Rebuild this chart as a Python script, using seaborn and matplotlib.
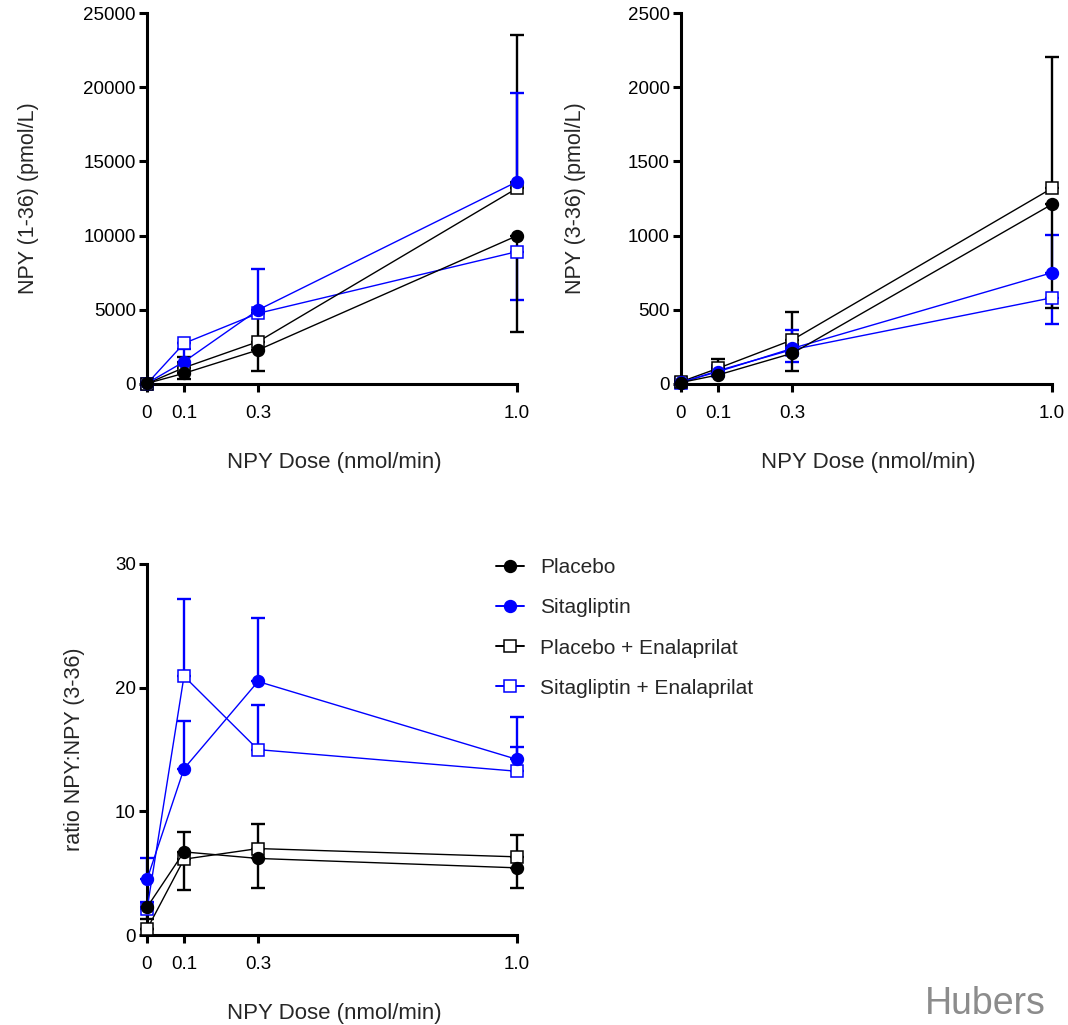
import matplotlib
matplotlib.use("Agg")
import matplotlib.pyplot as plt
import seaborn as sns
import numpy as np
import pandas as pd

sns.set_style("ticks")
plt.rcParams["font.family"] = ["Liberation Sans", "DejaVu Sans"]

# NPY infusion doses (nmol/min)
dose = [0, 0.1, 0.3, 1.0]
dose_labels = ["0", "0.1", "0.3", "1.0"]

groups = ["Placebo", "Sitagliptin", "Placebo + Enalaprilat", "Sitagliptin + Enalaprilat"]

# NPY (1-36), pmol/L: mean, lower and upper error
npy136_placebo = [40, 720, 2290, 9990]
npy136_placebo_lo = [0, 400, 1390, 6470]
npy136_placebo_hi = [0, 0, 0, 0]
npy136_sita = [50, 1500, 4990, 13630]
npy136_sita_lo = [0, 0, 0, 0]
npy136_sita_hi = [0, 840, 2760, 6000]
npy136_plen = [30, 1100, 2850, 13190]
npy136_plen_lo = [0, 0, 0, 0]
npy136_plen_hi = [0, 700, 1950, 10330]
npy136_sien = [20, 2740, 4760, 8920]
npy136_sien_lo = [0, 0, 0, 3260]
npy136_sien_hi = [0, 0, 0, 0]

# NPY (3-36), pmol/L
npy336_placebo = [10, 61, 207, 1211]
npy336_placebo_lo = [0, 0, 117, 697]
npy336_placebo_hi = [0, 0, 0, 0]
npy336_sita = [12, 83, 240, 750]
npy336_sita_lo = [0, 0, 0, 0]
npy336_sita_hi = [0, 0, 124, 254]
npy336_plen = [15, 106, 297, 1319]
npy336_plen_lo = [0, 0, 0, 0]
npy336_plen_hi = [0, 60, 186, 885]
npy336_sien = [8, 90, 232, 581]
npy336_sien_lo = [0, 0, 86, 177]
npy336_sien_hi = [0, 0, 0, 0]

# ratio NPY : NPY (3-36)
ratio_placebo = [2.24, 6.72, 6.19, 5.43]
ratio_placebo_lo = [0.97, 3.09, 2.37, 1.61]
ratio_placebo_hi = [0, 0, 0, 0]
ratio_sita = [4.49, 13.45, 20.5, 14.2]
ratio_sita_lo = [0, 0, 0, 0]
ratio_sita_hi = [1.70, 3.82, 5.17, 3.4]
ratio_plen = [0.46, 6.13, 6.99, 6.32]
ratio_plen_lo = [0, 0, 0, 0]
ratio_plen_hi = [0, 2.16, 1.97, 1.75]
ratio_sien = [2.07, 20.93, 14.99, 13.24]
ratio_sien_lo = [0, 0, 0, 0]
ratio_sien_hi = [0.62, 6.24, 3.6, 1.93]

BLUE = "#0000ff"
BLACK = "#000000"
styles = {
    "Placebo": dict(color=BLACK, marker="o", mfc=BLACK, z=3.4),
    "Sitagliptin": dict(color=BLUE, marker="o", mfc=BLUE, z=3.3),
    "Placebo + Enalaprilat": dict(color=BLACK, marker="s", mfc="white", z=3.2),
    "Sitagliptin + Enalaprilat": dict(color=BLUE, marker="s", mfc="white", z=3.1),
}

panels = [
    dict(series={
        "Placebo": (npy136_placebo, npy136_placebo_lo, npy136_placebo_hi),
        "Sitagliptin": (npy136_sita, npy136_sita_lo, npy136_sita_hi),
        "Placebo + Enalaprilat": (npy136_plen, npy136_plen_lo, npy136_plen_hi),
        "Sitagliptin + Enalaprilat": (npy136_sien, npy136_sien_lo, npy136_sien_hi),
    }, ylim=25000, yticks=[0, 5000, 10000, 15000, 20000, 25000],
        ylabel="NPY (1-36) (pmol/L)", rect=[147, 13, 517, 384], ylab_x=-0.292),
    dict(series={
        "Placebo": (npy336_placebo, npy336_placebo_lo, npy336_placebo_hi),
        "Sitagliptin": (npy336_sita, npy336_sita_lo, npy336_sita_hi),
        "Placebo + Enalaprilat": (npy336_plen, npy336_plen_lo, npy336_plen_hi),
        "Sitagliptin + Enalaprilat": (npy336_sien, npy336_sien_lo, npy336_sien_hi),
    }, ylim=2500, yticks=[0, 500, 1000, 1500, 2000, 2500],
        ylabel="NPY (3-36) (pmol/L)", rect=[681, 13, 1052, 384], ylab_x=-0.256),
    dict(series={
        "Placebo": (ratio_placebo, ratio_placebo_lo, ratio_placebo_hi),
        "Sitagliptin": (ratio_sita, ratio_sita_lo, ratio_sita_hi),
        "Placebo + Enalaprilat": (ratio_plen, ratio_plen_lo, ratio_plen_hi),
        "Sitagliptin + Enalaprilat": (ratio_sien, ratio_sien_lo, ratio_sien_hi),
    }, ylim=30, yticks=[0, 10, 20, 30],
        ylabel="ratio NPY:NPY (3-36)", rect=[147, 564, 517, 935], ylab_x=-0.168),
]

W, H = 1068, 1025
fig = plt.figure(figsize=(W / 100, H / 100), dpi=100)

axes = []
for p in panels:
    x0, y0, x1, y1 = p["rect"]
    ax = fig.add_axes([x0 / W, 1 - y1 / H, (x1 - x0) / W, (y1 - y0) / H])
    axes.append(ax)

    # error bars first, markers drawn over them
    for name in groups:
        vals, lo, hi = p["series"][name]
        st = styles[name]
        ax.errorbar(dose, vals, yerr=[lo, hi], fmt="none", ecolor=st["color"],
                    elinewidth=1.7, capsize=5, capthick=1.7, clip_on=False,
                    zorder=st["z"] - 1)

    for name in groups:
        vals, lo, hi = p["series"][name]
        st = styles[name]
        df = pd.DataFrame({"dose": dose, "value": vals})
        sns.lineplot(data=df, x="dose", y="value", ax=ax, color=st["color"],
                     marker=st["marker"], markersize=8.5 if st["marker"] == "o" else 8,
                     markerfacecolor=st["mfc"], markeredgecolor=st["color"],
                     markeredgewidth=1.1, linewidth=1.0, errorbar=None,
                     clip_on=False, zorder=st["z"], label=name, legend=False)

    ax.set_xlim(0, 1.0)
    ax.set_ylim(0, p["ylim"])
    ax.set_xticks(dose)
    ax.set_xticklabels(dose_labels)
    ax.set_yticks(p["yticks"])
    ax.set_yticklabels([str(t) for t in p["yticks"]])
    for s in ["top", "right"]:
        ax.spines[s].set_visible(False)
    for s in ["left", "bottom"]:
        ax.spines[s].set_linewidth(2.2)
        ax.spines[s].set_color("black")
    ax.tick_params(axis="both", length=6, width=2.2, labelsize=13.5, colors="black")
    ax.tick_params(axis="x", pad=9)
    ax.tick_params(axis="y", pad=2)
    ax.set_xlabel("NPY Dose (nmol/min)", fontsize=16)
    ax.set_ylabel(p["ylabel"], fontsize=15.5)
    ax.xaxis.set_label_coords(0.505, -0.183)
    ax.yaxis.set_label_coords(p["ylab_x"], 0.5)
    ax.grid(False)

# legend beside the ratio panel
handles = []
for name in groups:
    st = styles[name]
    h = plt.Line2D([], [], color=st["color"], marker=st["marker"],
                   markersize=8.5 if st["marker"] == "o" else 8,
                   markerfacecolor=st["mfc"], markeredgecolor=st["color"],
                   markeredgewidth=1.1, linewidth=1.4)
    handles.append(h)
fig.legend(handles, groups, loc="upper left",
           bbox_to_anchor=(496 / W, 1 - 558 / H), frameon=False, fontsize=15,
           handlelength=1.35, handletextpad=0.75, labelspacing=1.02,
           borderpad=0, borderaxespad=0, numpoints=1)

fig.text(925 / W, 1 - 1014 / H, "Hubers", fontsize=27, color="#8c8c8c",
         ha="left", va="baseline")

fig.savefig("out.png", dpi=100)
